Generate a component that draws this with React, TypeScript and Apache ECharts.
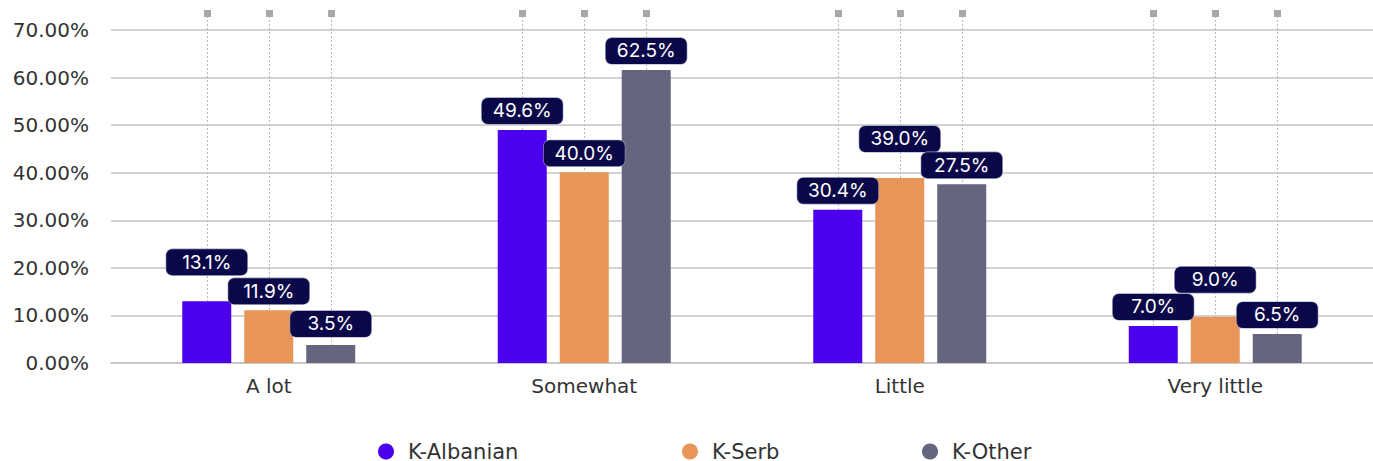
import React, { useEffect, useRef } from "react";
import * as echarts from "echarts";

const categories = ["A lot", "Somewhat", "Little", "Very little"];
const seriesNames = ["K-Albanian", "K-Serb", "K-Other"];
const albanianBars = [13.0, 49.0, 32.2, 7.8];
const serbBars = [11.1, 40.1, 38.9, 9.7];
const otherBars = [3.8, 61.6, 37.6, 6.1];
const albanianLabels = ["13.1%", "49.6%", "30.4%", "7.0%"];
const serbLabels = ["11.9%", "40.0%", "39.0%", "9.0%"];
const otherLabels = ["3.5%", "62.5%", "27.5%", "6.5%"];
const yTicks = [0, 10, 20, 30, 40, 50, 60, 70];

const colors = ["#4b00ee", "#e8955a", "#656580"];
const labelRaise = [
  [20, 0, 0, 0],
  [0, 0, 20, 18],
  [2, 0, 0, 0],
];

const AXIS_FONT = "DejaVu Sans";
const LABEL_FONT = "Inter";
const BAR_W = 49;
const GAP = 0.265;

export default function App() {
  const ref = useRef<HTMLDivElement>(null);
  useEffect(() => {
    if (!ref.current) return;
    const chart = echarts.init(ref.current, null, { renderer: "svg" });
    const bars = [albanianBars, serbBars, otherBars];
    const labels = [albanianLabels, serbLabels, otherLabels];
    const lineData: number[][] = [];
    bars.forEach((arr, s) => arr.forEach((v, i) => lineData.push([i, v, s])));
    const step = BAR_W * (1 + GAP);

    const barSeries = bars.map((arr, s) => ({
      type: "bar",
      name: seriesNames[s],
      barWidth: BAR_W,
      barGap: GAP * 100 + "%",
      z: 3,
      itemStyle: { color: colors[s] },
      data: arr.map((v, i) => ({
        value: v,
        label: {
          show: true,
          position: "top",
          distance: 6,
          offset: [0, -labelRaise[s][i]],
          formatter: () => labels[s][i],
          color: "#ffffff",
          fontFamily: LABEL_FONT,
          fontSize: 19,
          lineHeight: 18,
          backgroundColor: "#0a0849",
          borderColor: "#9a9ab8",
          borderWidth: 0.6,
          borderRadius: 6,
          width: 57,
          align: "center",
          padding: [4, 12, 4, 12],
        },
      })),
    }));

    chart.setOption({
      animation: false,
      grid: { left: 111, right: 0, top: 30, bottom: 98 },
      xAxis: {
        type: "category",
        data: categories,
        axisTick: { show: false },
        axisLine: { lineStyle: { color: "#c4c4c4", width: 1.5 } },
        axisLabel: { color: "#333", fontFamily: AXIS_FONT, fontSize: 20, margin: 13 },
      },
      yAxis: {
        type: "value",
        min: yTicks[0],
        max: yTicks[yTicks.length - 1],
        interval: 10,
        axisLine: { show: false },
        axisTick: { show: false },
        splitLine: { lineStyle: { color: "#c4c4c4", width: 1.5 } },
        axisLabel: {
          color: "#333",
          fontFamily: AXIS_FONT,
          fontSize: 20,
          margin: 22,
          formatter: (v: number) => v.toFixed(2) + "%",
        },
      },
      legend: [0, 1, 2].map((s) => ({
        data: [seriesNames[s]],
        left: [373, 677, 917][s],
        top: 436,
        icon: "circle",
        itemWidth: 16,
        itemHeight: 16,
        itemGap: 0,
        textStyle: {
          color: "#333",
          fontFamily: AXIS_FONT,
          fontSize: 21,
          lineHeight: 16,
          padding: [0, 0, 0, 9],
        },
      })),
      series: [
        {
          type: "custom",
          z: 1,
          silent: true,
          clip: false,
          encode: { x: 0, y: 1 },
          data: lineData,
          renderItem: (params: any, api: any) => {
            const c = api.coord([api.value(0), api.value(1)]);
            const x = Math.round(c[0] + (api.value(2) - 1) * step) + 0.5;
            return {
              type: "group",
              children: [
                {
                  type: "line",
                  shape: { x1: x, y1: 16, x2: x, y2: c[1] },
                  style: { stroke: "#b8b8b8", lineWidth: 1, lineDash: [2, 2] },
                },
                {
                  type: "rect",
                  shape: { x: x - 3.5, y: 10, width: 7, height: 7 },
                  style: { fill: "#a8a8a8" },
                },
              ],
            };
          },
        },
        ...barSeries,
      ],
    });
    return () => chart.dispose();
  }, []);
  return <div ref={ref} style={{ width: 1373, height: 461, position: "absolute", left: 0, top: 0 }} />;
}
